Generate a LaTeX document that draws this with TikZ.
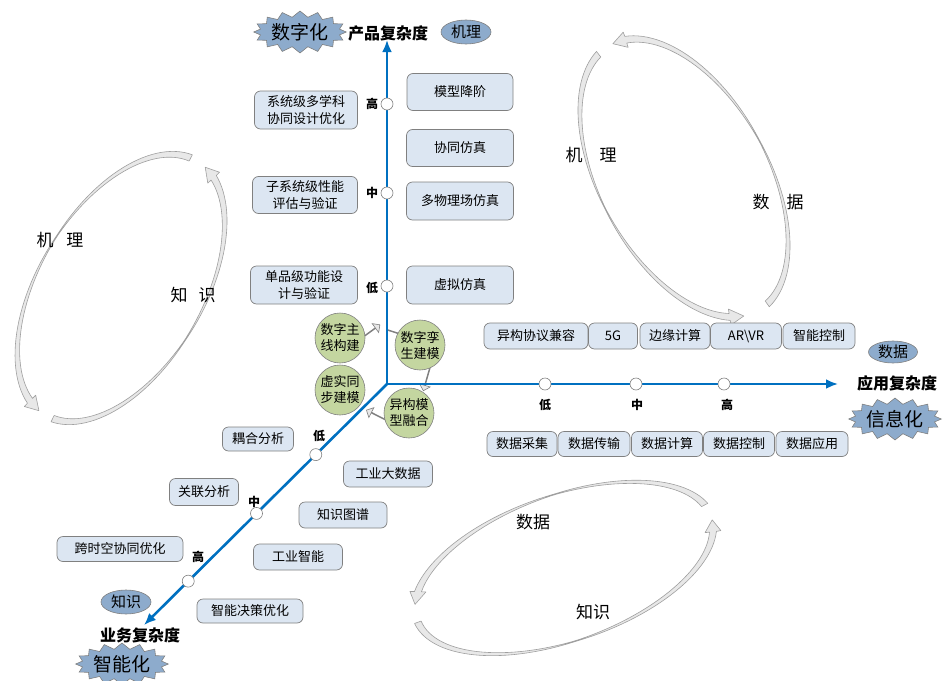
\documentclass[tikz,border=0pt]{standalone}
\usepackage{fontspec}
\setmainfont{Noto Sans CJK SC}
\usetikzlibrary{arrows.meta,shapes.geometric,shapes.symbols,shapes.arrows,calc}
\definecolor{axisblue}{RGB}{0,112,192}
\definecolor{boxfill}{RGB}{220,230,242}
\definecolor{boxline}{RGB}{128,128,128}
\definecolor{badgefill}{RGB}{141,171,204}
\definecolor{greenfill}{RGB}{196,214,160}
\definecolor{ringfill}{RGB}{232,232,232}
\def\ringhw{3.5}
\def\ringhh{8}
\newcommand\ringarrow[8]{%
 \begin{scope}[shift={(#1,#2)},rotate=#3]
 \pgfmathsetmacro\rgA{#4}\pgfmathsetmacro\rgB{#5}%
 \pgfmathsetmacro\rgTa{#6}\pgfmathsetmacro\rgTb{#7}\pgfmathsetmacro\rgTc{#7+#8}%
 \filldraw[ringband] plot[domain=0:1,samples=60] ({(\rgA+\ringhw*(0.1+0.9*abs(2*\x-1)))*cos(\rgTa+\x*(\rgTb-\rgTa))},{(\rgB+\ringhw*(0.1+0.9*abs(2*\x-1)))*sin(\rgTa+\x*(\rgTb-\rgTa))})
 -- ({(\rgA+\ringhh)*cos(\rgTb)},{(\rgB+\ringhh)*sin(\rgTb)})
 -- ({\rgA*cos(\rgTc)},{\rgB*sin(\rgTc)})
 -- ({(\rgA-\ringhh)*cos(\rgTb)},{(\rgB-\ringhh)*sin(\rgTb)})
 -- plot[domain=0:1,samples=60] ({(\rgA-\ringhw*(0.1+0.9*abs(1-2*\x)))*cos(\rgTb+\x*(\rgTa-\rgTb))},{(\rgB-\ringhw*(0.1+0.9*abs(1-2*\x)))*sin(\rgTb+\x*(\rgTa-\rgTb))})
 -- cycle;
 \end{scope}}
\begin{document}
\begin{tikzpicture}[x=1pt,y=-1pt,
  ringband/.style={fill=ringfill,draw=gray!75,line width=0.6pt,line join=round},
  axis/.style={draw=axisblue,line width=2.6pt,-{Latex[length=12pt,width=10pt]}},
  tick/.style={circle,draw=boxline,fill=white,line width=0.6pt,minimum size=12pt,inner sep=0pt},
  ticklab/.style={font=\fontsize{12}{12}\selectfont\bfseries},
  box/.style={draw=boxline,fill=boxfill,rounded corners=6pt,line width=0.7pt,align=center,inner sep=0pt,font=\fontsize{13}{17}\selectfont},
  gcirc/.style={circle,draw=boxline,fill=greenfill,line width=0.6pt,minimum size=50pt,inner sep=0pt,align=center,font=\fontsize{13}{16}\selectfont},
  badge/.style={ellipse,draw=boxline,fill=badgefill,line width=0.6pt,minimum width=50pt,minimum height=24pt,inner sep=0pt,font=\fontsize{15}{15}\selectfont},
  burst/.style={starburst,starburst points=16,starburst point height=6pt,random starburst=0,draw=boxline,fill=badgefill,line width=0.6pt,minimum width=68pt,minimum height=42pt,inner sep=0pt,font=\fontsize{19}{19}\selectfont},
  axlab/.style={font=\fontsize{16}{16}\selectfont\bfseries},
  ringlab/.style={font=\fontsize{17}{17}\selectfont},
  garrow/.style={single arrow,draw=boxline,fill=ringfill,line width=0.6pt,minimum width=11pt,single arrow head extend=3.5pt,inner sep=0pt}
]
\path[use as bounding box] (0,0) rectangle (945,680);

% ---- cycle rings ----
\ringarrow{121}{288}{59}{148}{82}{-5}{-166}{-9}
\ringarrow{121}{288}{59}{148}{82}{174}{16}{-9}
\ringarrow{684}{178}{-61}{152}{84}{170}{19}{-9}
\ringarrow{684}{178}{-61}{152}{84}{-8}{-169}{-9}
\ringarrow{564}{568}{19.4}{156}{73}{-10}{-159}{-9}
\ringarrow{564}{568}{19.4}{156}{73}{178}{12}{-9}

\node[ringlab] (rl1) at (60,240) {机\hspace{13pt}理};
\node[ringlab] (rl2) at (193,295) {知\hspace{11pt}识};
\node[ringlab] (rl3) at (591,155) {机\hspace{17pt}理};
\node[ringlab] (rl4) at (778,202) {数\hspace{17pt}据};
\node[ringlab] (rl5) at (533,522) {数据};
\node[ringlab] (rl6) at (593,612) {知识};

% ---- small cycle arrows ----
\node[garrow,minimum height=24pt,rotate=36] (ga1) at (370,332) {};
\node[garrow,minimum height=22pt,rotate=-18] (ga2) at (397,333) {};
\node[garrow,minimum height=26pt,rotate=-106] (ga3) at (427,378) {};
\node[garrow,minimum height=30pt,rotate=153] (ga4) at (380,417) {};

% ---- axes ----
\coordinate (O) at (387,384);
\coordinate (Ytip) at (387,40);
\coordinate (Xtip) at (838,384);
\coordinate (Ztip) at (144,625);
\draw[axis] (O) -- (Ytip);
\draw[axis] (O) -- (Xtip);
\draw[axis] (O) -- (Ztip);

\node[tick] (v1) at (387,104) {};
\node[tick] (v2) at (387,193) {};
\node[tick] (v3) at (387,286) {};
\node[ticklab] (vl1) at (372,104) {高};
\node[ticklab] (vl2) at (372,193) {中};
\node[ticklab] (vl3) at (372,288) {低};

\node[tick] (h1) at (545,384) {};
\node[tick] (h2) at (636,384) {};
\node[tick] (h3) at (724,384) {};
\node[ticklab] (hl1) at (545,405) {低};
\node[ticklab] (hl2) at (637,405) {中};
\node[ticklab] (hl3) at (727,405) {高};

\node[tick] (d1) at ($(O)!0.293!(Ztip)$) {};
\node[tick] (d2) at ($(O)!0.537!(Ztip)$) {};
\node[tick] (d3) at ($(O)!0.818!(Ztip)$) {};
\node[ticklab] (dl1) at (319,436) {低};
\node[ticklab] (dl2) at (254,502) {中};
\node[ticklab] (dl3) at (198,557) {高};

% ---- axis titles and badges ----
\node[axlab] (ty) at (388,33) {产品复杂度};
\node[axlab] (tx) at (897,383) {应用复杂度};
\node[axlab] (tz) at (140,635) {业务复杂度};
\node[burst] (s1) at (300,32) {数字化};
\node[burst] (s2) at (895,419) {信息化};
\node[burst] (s3) at (122,664) {智能化};
\node[badge] (e1) at (466,32) {机理};
\node[badge,minimum width=49pt,minimum height=22pt] (e2) at (893,352) {数据};
\node[badge] (e3) at (126,602) {知识};

% ---- vertical axis boxes ----
\node[box,minimum width=103pt,minimum height=38pt] (b1) at (306,110) {系统级多学科\\协同设计优化};
\node[box,minimum width=105pt,minimum height=37pt] (b2) at (305,195) {子系统级性能\\评估与验证};
\node[box,minimum width=107pt,minimum height=38pt] (b3) at (304,285) {单品级功能设\\计与验证};
\node[box,minimum width=106pt,minimum height=37pt] (b4) at (460,92) {模型降阶};
\node[box,minimum width=107pt,minimum height=37pt] (b5) at (460,148) {协同仿真};
\node[box,minimum width=107pt,minimum height=38pt] (b6) at (460,201) {多物理场仿真};
\node[box,minimum width=107pt,minimum height=38pt] (b7) at (460,285) {虚拟仿真};

% ---- horizontal axis boxes ----
\node[box,minimum width=104pt,minimum height=26pt] (t1) at (536,336) {异构协议兼容};
\node[box,minimum width=49pt,minimum height=26pt] (t2) at (613,336) {5G};
\node[box,minimum width=70pt,minimum height=26pt] (t3) at (675,336) {边缘计算};
\node[box,minimum width=71pt,minimum height=26pt] (t4) at (746,336) {AR\textbackslash VR};
\node[box,minimum width=72pt,minimum height=26pt] (t5) at (819,336) {智能控制};
\node[box,minimum width=70pt,minimum height=25pt] (u1) at (522,444) {数据采集};
\node[box,minimum width=72pt,minimum height=25pt] (u2) at (594,444) {数据传输};
\node[box,minimum width=71pt,minimum height=25pt] (u3) at (667,444) {数据计算};
\node[box,minimum width=71pt,minimum height=25pt] (u4) at (739,444) {数据控制};
\node[box,minimum width=72pt,minimum height=25pt] (u5) at (812,444) {数据应用};

% ---- diagonal axis boxes ----
\node[box,minimum width=71pt,minimum height=24pt] (k1) at (258,439) {耦合分析};
\node[box,minimum width=69pt,minimum height=27pt] (k2) at (204,492) {关联分析};
\node[box,minimum width=126pt,minimum height=25pt] (k3) at (120,549) {跨时空协同优化};
\node[box,minimum width=89pt,minimum height=26pt] (k4) at (388,474) {工业大数据};
\node[box,minimum width=88pt,minimum height=26pt] (k5) at (343,515) {知识图谱};
\node[box,minimum width=89pt,minimum height=26pt] (k6) at (298,557) {工业智能};
\node[box,minimum width=106pt,minimum height=24pt] (k7) at (250,611) {智能决策优化};

% ---- green circles ----
\node[gcirc] (g1) at (340,338) {数字主\\线构建};
\node[gcirc] (g2) at (340,390) {虚实同\\步建模};
\node[gcirc] (g3) at (420,345) {数字孪\\生建模};
\node[gcirc] (g4) at (409,413) {异构模\\型融合};
\end{tikzpicture}
\end{document}
